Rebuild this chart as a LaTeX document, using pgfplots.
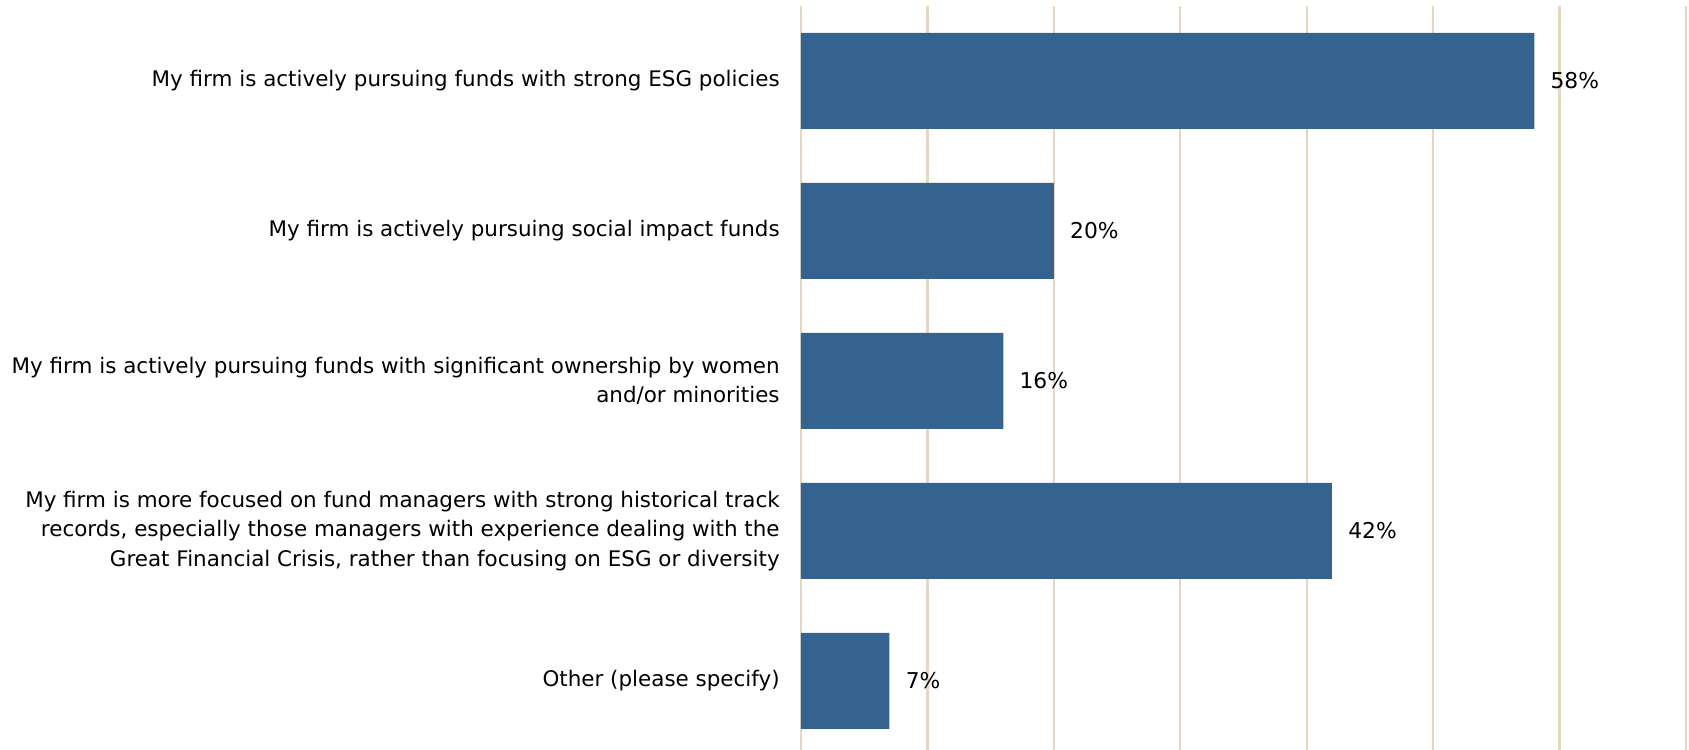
\documentclass[border=0pt]{standalone}
\usepackage{pgfplots}
\pgfplotsset{compat=1.18}
\usepackage{fontspec}
\setmainfont{DejaVu Sans}
\usetikzlibrary{calc}

\definecolor{barblue}{RGB}{51,99,142}
\definecolor{gridtan}{RGB}{230,216,192}

\begin{document}
\begin{tikzpicture}
\begin{axis}[
    xbar,
    scale only axis,
    width=177mm, height=148.8mm,
    xmin=0, xmax=70,
    ymin=-0.5, ymax=4.46,
    y dir=reverse,
    axis line style={draw=none},
    major tick length=0pt,
    xtick={0,10,...,70},
    xticklabels={},
    xmajorgrids,
    grid style={line width=0.45mm, draw=gridtan},
    ytick={0,1,2,3,4},
    yticklabels={
        {My firm is actively pursuing funds with strong ESG policies},
        {My firm is actively pursuing social impact funds},
        {My firm is actively pursuing funds with significant ownership by women\\and/or minorities},
        {My firm is more focused on fund managers with strong historical track\\records, especially those managers with experience dealing with the\\Great Financial Crisis, rather than focusing on ESG or diversity},
        {Other (please specify)}
    },
    yticklabel style={align=right, inner sep=0pt, xshift=-4.2mm,
        font=\fontsize{12.2}{16.8}\selectfont},
    bar width=0.64,
    point meta=x,
    /pgf/number format/assume math mode=true,
    nodes near coords={\pgfmathprintnumber{\pgfplotspointmeta}\%},
    nodes near coords style={anchor=west, inner sep=0pt, xshift=3.2mm,
        font=\fontsize{12.4}{16}\selectfont, black},
]
\addplot[fill=barblue, draw=none] coordinates {
    (58,0) (20,1) (16,2) (42,3) (7,4)
};
\end{axis}
\pgfresetboundingbox
\path ($(current axis.south west)+(-160.2mm,0)$) rectangle ($(current axis.north east)+(0.6mm,1.2mm)$);
\end{tikzpicture}
\end{document}
